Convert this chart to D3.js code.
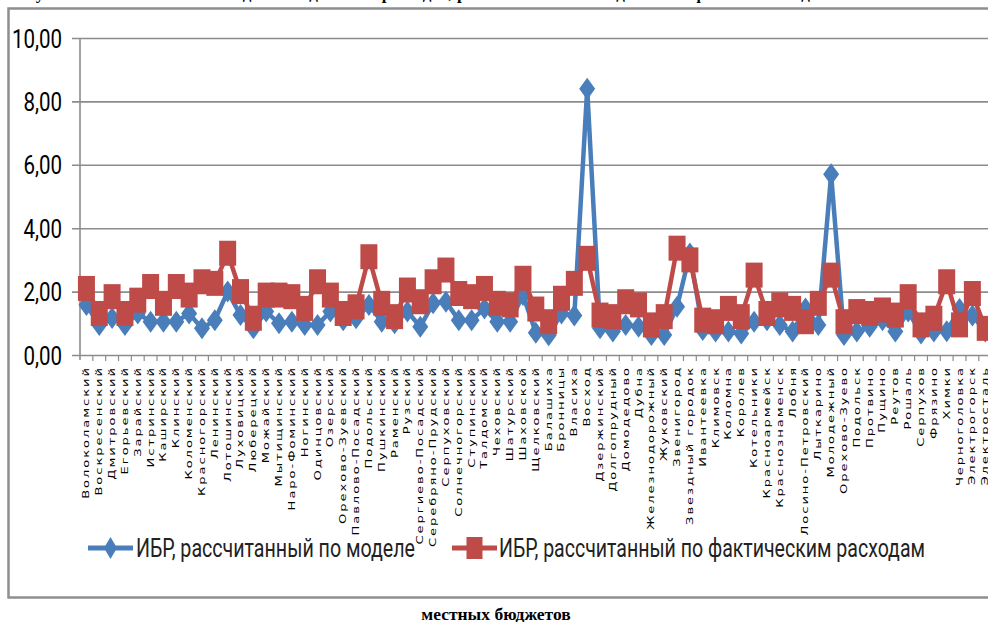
<!DOCTYPE html>
<html>
<head>
<meta charset="utf-8">
<script src="https://cdn.jsdelivr.net/npm/d3@7"></script>
<style>
  html, body { margin: 0; padding: 0; background: #fff; }
  svg { display: block; }
</style>
</head>
<body>
<svg id="chart" width="988" height="622"></svg>
<script>
// Municipalities along the x axis
const categories = [
  "Волоколамский", "Воскресенский", "Дмитровский", "Егорьевский", "Зарайский",
  "Истринский", "Каширский", "Клинский", "Коломенский", "Красногорский",
  "Ленинский", "Лотошинский", "Луховицкий", "Люберецкий", "Можайский",
  "Мытищинский", "Наро-Фоминский", "Ногинский", "Одинцовский", "Озерский",
  "Орехово-Зуевский", "Павлово-Посадский", "Подольский", "Пушкинский", "Раменский",
  "Рузский", "Сергиево-Посадский", "Серебряно-Прудский", "Серпуховский", "Солнечногорский",
  "Ступинский", "Талдомский", "Чеховский", "Шатурский", "Шаховской",
  "Щелковский", "Балашиха", "Бронницы", "Власиха", "Восход",
  "Дзержинский", "Долгопрудный", "Домодедово", "Дубна", "Железнодорожный",
  "Жуковский", "Звенигород", "Звездный городок", "Ивантеевка", "Климовск",
  "Коломна", "Королев", "Котельники", "Красноармейск", "Краснознаменск",
  "Лобня", "Лосино-Петровский", "Лыткарино", "Молодежный", "Орехово-Зуево",
  "Подольск", "Протвино", "Пущино", "Реутов", "Рошаль",
  "Серпухов", "Фрязино", "Химки", "Черноголовка", "Электрогорск",
  "Электросталь"
];

// Index of budget expenditures computed by the model
const modelIndex = [
  1.58, 0.95, 1.17, 0.95, 1.31, 1.05, 1.05, 1.05, 1.31, 0.84,
  1.10, 2.00, 1.26, 0.84, 1.37, 1.00, 1.05, 0.95, 0.95, 1.37,
  1.10, 1.16, 1.58, 1.05, 1.00, 1.37, 0.89, 1.63, 1.68, 1.10,
  1.10, 1.47, 1.05, 1.05, 1.89, 0.70, 0.62, 1.31, 1.25, 8.40,
  0.84, 0.74, 0.95, 0.89, 0.63, 0.63, 1.52, 3.20, 0.79, 0.74,
  0.74, 0.68, 1.05, 1.10, 0.95, 0.74, 1.47, 0.95, 5.70, 0.63,
  0.74, 0.89, 1.10, 0.74, 1.37, 0.68, 0.74, 0.75, 1.45, 1.25,
  0.74
];

// Index of budget expenditures computed from actual spending
const actualIndex = [
  2.10, 1.31, 1.84, 1.31, 1.73, 2.16, 1.63, 2.16, 1.89, 2.31,
  2.26, 3.21, 2.00, 1.16, 1.89, 1.89, 1.84, 1.47, 2.31, 1.89,
  1.31, 1.52, 3.10, 1.63, 1.21, 2.05, 1.68, 2.31, 2.68, 1.94,
  1.84, 2.10, 1.63, 1.58, 2.42, 1.45, 1.05, 1.79, 2.26, 3.05,
  1.26, 1.21, 1.68, 1.58, 0.95, 1.21, 3.37, 3.00, 1.10, 1.05,
  1.47, 1.21, 2.52, 1.31, 1.58, 1.47, 1.05, 1.63, 2.52, 1.05,
  1.37, 1.31, 1.42, 1.26, 1.84, 0.95, 1.16, 2.31, 0.95, 1.94,
  0.84
];

const yTicks = [0, 2, 4, 6, 8, 10];
const seriesNames = [
  "ИБР, рассчитанный по моделе",
  "ИБР, рассчитанный по фактическим расходам"
];
const captionTop = "Рисунок 2 – Сопоставление индекса бюджетных расходов, рассчитанного по модели и по фактическим данным об исполнении";
const captionBottom = "местных бюджетов";

const BLUE = "#4a7ebb";
const RED = "#be4b48";
const GRID = "#8c8c8c";

const svg = d3.select("#chart");
const W = 988, H = 622;

const plotLeft = 80, plotTop = 38, plotBottom = 355;
const band = 12.84;

const x = d3.scaleBand()
  .domain(categories)
  .range([plotLeft, plotLeft + band * categories.length])
  .padding(0);
const y = d3.scaleLinear().domain([0, 10]).range([plotBottom, plotTop]);
const cx = c => x(c) + x.bandwidth() / 2;

// caption line above the frame (runs past the top of the page)
svg.append("text")
  .attr("x", W / 2).attr("y", -1.5)
  .attr("text-anchor", "middle")
  .attr("font-family", "Liberation Serif, Times New Roman, serif")
  .attr("font-weight", "bold")
  .attr("font-size", 17)
  .attr("fill", "#000")
  .text(captionTop);

// chart frame
svg.append("rect")
  .attr("x", 8.5).attr("y", 8.5)
  .attr("width", 1010).attr("height", 589)
  .attr("fill", "none")
  .attr("stroke", "#8e8e8e")
  .attr("stroke-width", 2.5);

// y axis with gridlines
const yAxis = d3.axisLeft(y)
  .tickValues(yTicks)
  .tickSizeInner(-(W - plotLeft))
  .tickSizeOuter(0)
  .tickFormat(d => d.toFixed(2).replace(".", ","));

const gy = svg.append("g")
  .attr("transform", `translate(${plotLeft},0)`)
  .call(yAxis);
gy.select(".domain").remove();
gy.selectAll(".tick line")
  .attr("x1", -8)
  .attr("stroke", GRID)
  .attr("stroke-width", 1.6);
const labelScaleX = 0.82;
gy.selectAll(".tick text")
  .attr("x", -18 / labelScaleX)
  .attr("dy", "0.36em")
  .attr("transform", `scale(${labelScaleX},1)`)
  .attr("text-anchor", "end")
  .attr("font-family", "Roboto, Arial, sans-serif")
  .attr("font-size", 25)
  .attr("fill", "#000");

// vertical axis line
svg.append("line")
  .attr("x1", plotLeft).attr("x2", plotLeft)
  .attr("y1", plotTop).attr("y2", plotBottom + 5)
  .attr("stroke", GRID).attr("stroke-width", 1.6);

// category tick marks at band boundaries
svg.append("g").selectAll("line")
  .data(categories)
  .join("line")
  .attr("x1", d => x(d) + x.bandwidth()).attr("x2", d => x(d) + x.bandwidth())
  .attr("y1", plotBottom).attr("y2", plotBottom + 6)
  .attr("stroke", GRID).attr("stroke-width", 1.2);

// category labels, rotated and stretched along the text direction
const labelStretch = 1.6;
svg.append("g").selectAll("text")
  .data(categories)
  .join("text")
  .attr("transform", d => `translate(${cx(d)},${plotBottom + 11}) rotate(-90) scale(${labelStretch},1)`)
  .attr("text-anchor", "end")
  .attr("dy", "0.36em")
  .attr("font-family", "DejaVu Sans, Verdana, sans-serif")
  .attr("font-size", 8.2)
  .attr("letter-spacing", 1.2)
  .attr("fill", "#000")
  .text(d => d);

// marker shapes
const diamondPath = (w, h) => `M0,${-h / 2}L${w / 2},0L0,${h / 2}L${-w / 2},0Z`;

const line = d3.line()
  .x((d, i) => cx(categories[i]))
  .y(d => y(d));

const plot = svg.append("g");

// model series
plot.append("path")
  .datum(modelIndex)
  .attr("d", line)
  .attr("fill", "none")
  .attr("stroke", BLUE)
  .attr("stroke-width", 4.5)
  .attr("stroke-linejoin", "round");
plot.append("g").selectAll("path")
  .data(modelIndex)
  .join("path")
  .attr("transform", (d, i) => `translate(${cx(categories[i])},${y(d)})`)
  .attr("d", diamondPath(16, 22))
  .attr("fill", BLUE);

// actual-spending series
plot.append("path")
  .datum(actualIndex)
  .attr("d", line)
  .attr("fill", "none")
  .attr("stroke", RED)
  .attr("stroke-width", 4.5)
  .attr("stroke-linejoin", "round");
plot.append("g").selectAll("rect")
  .data(actualIndex)
  .join("rect")
  .attr("x", (d, i) => cx(categories[i]) - 8.5)
  .attr("y", d => y(d) - 12.5)
  .attr("width", 17)
  .attr("height", 25)
  .attr("fill", RED);

// legend
const legendY = 548;
const legendItems = [
  { name: seriesNames[0], color: BLUE, x0: 88, x1: 133, tx: 136, tl: 279, shape: "diamond" },
  { name: seriesNames[1], color: RED, x0: 452, x1: 497, tx: 499, tl: 426, shape: "square" }
];
const lg = svg.append("g").selectAll("g")
  .data(legendItems)
  .join("g");
lg.append("line")
  .attr("x1", d => d.x0).attr("x2", d => d.x1)
  .attr("y1", legendY).attr("y2", legendY)
  .attr("stroke", d => d.color).attr("stroke-width", 5);
lg.filter(d => d.shape === "diamond").append("path")
  .attr("transform", d => `translate(${(d.x0 + d.x1) / 2},${legendY})`)
  .attr("d", diamondPath(13, 22))
  .attr("fill", d => d.color);
lg.filter(d => d.shape === "square").append("rect")
  .attr("x", d => (d.x0 + d.x1) / 2 - 8)
  .attr("y", legendY - 11)
  .attr("width", 16).attr("height", 22)
  .attr("fill", d => d.color);
lg.append("text")
  .attr("x", d => d.tx)
  .attr("y", legendY + 9)
  .attr("textLength", d => d.tl)
  .attr("lengthAdjust", "spacingAndGlyphs")
  .attr("font-family", "Roboto, Arial, sans-serif")
  .attr("font-size", 25)
  .attr("fill", "#222")
  .text(d => d.name);

// caption line below the frame
svg.append("text")
  .attr("x", 496).attr("y", 620)
  .attr("text-anchor", "middle")
  .attr("font-family", "Liberation Serif, Times New Roman, serif")
  .attr("font-weight", "bold")
  .attr("font-size", 17.5)
  .attr("fill", "#000")
  .text(captionBottom);
</script>
</body>
</html>
